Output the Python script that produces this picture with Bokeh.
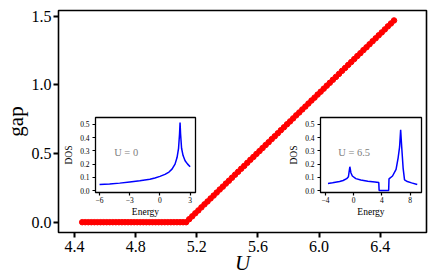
from bokeh.plotting import figure
from bokeh.models import FixedTicker, Range1d, GridBox, Label
from bokeh.embed import file_html
from bokeh.resources import INLINE

# ---------------- data ----------------
U_vals = [4.45, 4.47, 4.49, 4.51, 4.53, 4.55, 4.57, 4.59, 4.61, 4.63, 4.65, 4.67, 4.69, 4.71, 4.73,
          4.75, 4.77, 4.79, 4.81, 4.83, 4.85, 4.87, 4.89, 4.91, 4.93, 4.95, 4.97, 4.99, 5.01, 5.03,
          5.05, 5.07, 5.09, 5.11, 5.13,
          5.15, 5.17, 5.19, 5.21, 5.23, 5.25, 5.27, 5.29, 5.31, 5.33, 5.35, 5.37, 5.39, 5.41, 5.43,
          5.45, 5.47, 5.49, 5.51, 5.53, 5.55, 5.57, 5.59, 5.61, 5.63, 5.65, 5.67, 5.69, 5.71, 5.73,
          5.75, 5.77, 5.79, 5.81, 5.83, 5.85, 5.87, 5.89, 5.91, 5.93, 5.95, 5.97, 5.99, 6.01, 6.03,
          6.05, 6.07, 6.09, 6.11, 6.13, 6.15, 6.17, 6.19, 6.21, 6.23, 6.25, 6.27, 6.29, 6.31, 6.33,
          6.35, 6.37, 6.39, 6.41, 6.43, 6.45, 6.47, 6.49]
gap_vals = [0.0] * 35 + [
    0.022, 0.043, 0.065, 0.086, 0.108, 0.130, 0.151, 0.173, 0.194, 0.216, 0.238, 0.259, 0.281,
    0.302, 0.324, 0.346, 0.367, 0.389, 0.410, 0.432, 0.454, 0.475, 0.497, 0.518, 0.540, 0.562,
    0.583, 0.605, 0.626, 0.648, 0.670, 0.691, 0.713, 0.734, 0.756, 0.778, 0.799, 0.821, 0.842,
    0.864, 0.886, 0.907, 0.929, 0.950, 0.972, 0.994, 1.015, 1.037, 1.058, 1.080, 1.102, 1.123,
    1.145, 1.166, 1.188, 1.210, 1.231, 1.253, 1.274, 1.296, 1.318, 1.339, 1.361, 1.382, 1.404,
    1.426, 1.447, 1.469]

E0 = [-6.0, -5.0, -4.0, -3.0, -2.0, -1.0, -0.5, 0.0, 0.5, 0.9, 1.2, 1.5, 1.7, 1.85, 1.95, 2.0,
      2.05, 2.15, 2.3, 2.5, 2.75, 3.0]
DOS0 = [0.045, 0.050, 0.056, 0.065, 0.074, 0.086, 0.095, 0.107, 0.122, 0.140, 0.162, 0.200,
        0.250, 0.320, 0.430, 0.515, 0.430, 0.320, 0.265, 0.225, 0.200, 0.180]

E65 = [-3.65, -3.0, -2.0, -1.5, -1.0, -0.75, -0.55, -0.4, -0.2, 0.3, 1.0, 2.0, 3.0, 3.55, 3.6,
       4.95, 5.0, 5.5, 6.0, 6.3, 6.5, 6.65, 6.8, 7.0, 7.2, 7.6, 8.2, 9.0]
DOS65 = [0.053, 0.058, 0.068, 0.076, 0.090, 0.105, 0.180, 0.135, 0.110, 0.090, 0.080, 0.070,
         0.064, 0.060, 0.0, 0.0, 0.088, 0.110, 0.160, 0.250, 0.330, 0.460, 0.330, 0.170, 0.080,
         0.068, 0.058, 0.045]

main_xticks = [4.4, 4.8, 5.2, 5.6, 6.0, 6.4]
main_yticks = [0.0, 0.5, 1.0, 1.5]
dos_yticks = [0.0, 0.1, 0.2, 0.3, 0.4, 0.5]
in1_xticks = [-6, -3, 0, 3]
in2_xticks = [-4, 0, 4, 8]

FONT = "Liberation Serif"
# all plots in the grid share the same borders (Bokeh aligns them)
BL, BR, BT, BB = 52, 10, 10, 48

# ---------------- main figure ----------------
p = figure(width=436, height=280, x_range=Range1d(4.295, 6.7025), y_range=Range1d(-0.075, 1.5415),
           output_backend="svg", toolbar_location=None,
           min_border_left=BL, min_border_right=BR, min_border_top=BT, min_border_bottom=BB)
p.grid.visible = False
p.outline_line_color = "black"
p.outline_line_width = 1.6
p.scatter(U_vals, gap_vals, size=5.5, color="red")

p.xaxis.ticker = FixedTicker(ticks=main_xticks)
p.yaxis.ticker = FixedTicker(ticks=main_yticks)
p.xaxis.major_label_overrides = {t: f"{t:.1f}" for t in main_xticks}
p.yaxis.major_label_overrides = {t: f"{t:.1f}" for t in main_yticks}
p.xaxis.axis_label = "U"
p.yaxis.axis_label = "gap"
for ax in (p.xaxis, p.yaxis):
    ax.axis_line_color = None
    ax.minor_tick_line_color = None
    ax.major_tick_in = 0
    ax.major_tick_out = 5
    ax.major_tick_line_width = 2
    ax.major_tick_line_color = "black"
    ax.major_label_text_font = FONT
    ax.major_label_text_font_size = "16px"
    ax.major_label_text_color = "black"
    ax.major_label_standoff = 3
    ax.axis_label_text_font = FONT
    ax.axis_label_text_font_size = "21px"
    ax.axis_label_text_color = "black"
    ax.axis_label_standoff = -4
p.yaxis.major_label_standoff = 2
p.yaxis.axis_label_standoff = 1
p.xaxis.axis_label_text_font_style = "italic"
p.yaxis.axis_label_text_font_style = "normal"


def make_inset(E, D, xr, xticks, label_text, label_x, frame_left, fw):
    f = figure(width=BL + fw + BR, height=BT + 75 + BB,
               x_range=Range1d(*xr), y_range=Range1d(-0.015, 0.553),
               output_backend="svg", toolbar_location=None,
               min_border_left=BL, min_border_right=BR, min_border_top=BT, min_border_bottom=BB,
               margin=(117 - BT, 0, 0, frame_left - BL))
    f.border_fill_color = None
    f.background_fill_color = "white"
    f.outline_line_color = "black"
    f.outline_line_width = 1.3
    f.grid.visible = False
    f.line(E, D, color="blue", line_width=1.5)
    f.xaxis.ticker = FixedTicker(ticks=xticks)
    f.yaxis.ticker = FixedTicker(ticks=dos_yticks)
    f.xaxis.major_label_overrides = {t: (str(t).replace("-", "\u2212")) for t in xticks}
    f.yaxis.major_label_overrides = {t: f"{t:.1f}" for t in dos_yticks}
    f.xaxis.axis_label = "Energy"
    f.yaxis.axis_label = "DOS"
    for ax in (f.xaxis, f.yaxis):
        ax.axis_line_color = None
        ax.minor_tick_line_color = None
        ax.major_tick_in = 0
        ax.major_tick_out = 3
        ax.major_tick_line_width = 1.2
        ax.major_tick_line_color = "black"
        ax.major_label_text_font = FONT
        ax.major_label_text_font_size = "7.5px"
        ax.major_label_text_color = "black"
        ax.axis_label_text_font = FONT
        ax.axis_label_text_font_size = "9.5px"
        ax.axis_label_text_color = "black"
        ax.axis_label_text_font_style = "normal"
    f.xaxis.major_label_standoff = 1
    f.xaxis.axis_label_standoff = 1
    f.yaxis.major_label_standoff = 3
    f.yaxis.axis_label_standoff = 3
    f.add_layout(Label(x=label_x, y=0.29, text=label_text, text_font=FONT,
                       text_font_size="10.5px", text_color="gray", text_baseline="middle"))
    return f


in1 = make_inset(E0, DOS0, (-6.403, 3.534), in1_xticks, "U = 0", -4.55, 89, 106)
in2 = make_inset(E65, DOS65, (-4.709, 9.605), in2_xticks, "U = 6.5", -2.2, 314, 107)

layout = GridBox(children=[(p, 0, 0), (in1, 0, 0), (in2, 0, 0)])

open("out.html", "w").write(file_html(layout, INLINE))
